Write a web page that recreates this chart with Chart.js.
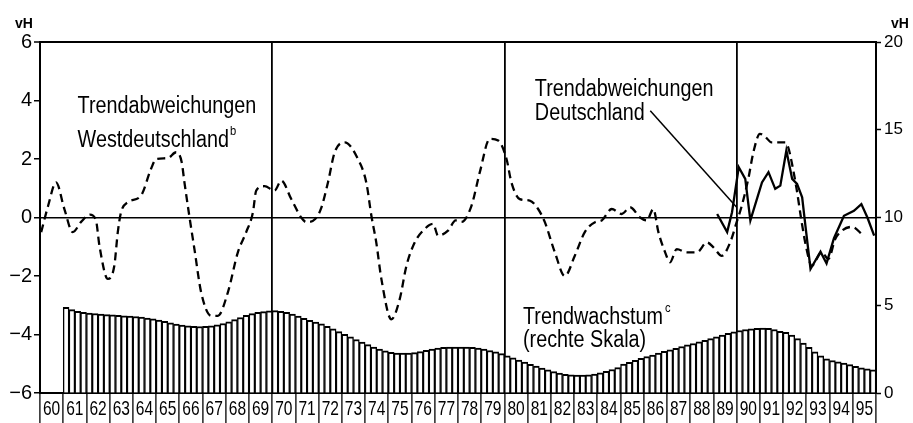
<!DOCTYPE html>
<html><head><meta charset="utf-8">
<script src="https://cdn.jsdelivr.net/npm/chart.js@4.4.1/dist/chart.umd.min.js"></script>
<style>html,body{margin:0;padding:0;background:#fff;}</style>
</head><body>
<canvas id="c" width="913" height="423"></canvas>
<script>
// ---- Data ----
// Trend deviations West Germany (vH, left scale): time (year fraction) and value
const westT = [1960.05,1960.35,1960.69,1961.05,1961.41,1961.77,1962.15,1962.41,1962.56,1962.92,1963.2,1963.35,1963.49,1963.78,1964.35,1964.78,1965.0,1965.5,1965.86,1966.1,1966.22,1966.44,1966.65,1966.94,1967.37,1967.66,1968.09,1968.52,1968.88,1969.17,1969.31,1969.67,1970.1,1970.39,1970.82,1971.25,1971.47,1971.85,1972.1,1972.4,1972.69,1973.12,1973.69,1974.05,1974.27,1974.48,1974.7,1975.13,1975.49,1975.78,1976.14,1976.57,1976.93,1977.14,1977.57,1977.9,1978.15,1978.58,1978.94,1979.37,1979.73,1980.09,1980.3,1980.66,1981.09,1981.45,1981.74,1982.17,1982.6,1983.03,1983.46,1983.9,1984.19,1984.62,1985.05,1985.41,1985.84,1986.13,1986.41,1986.63,1986.92,1987.13,1987.42,1987.85,1988.29,1988.72,1989.0,1989.36,1989.72,1990.0,1990.22,1990.5,1990.72,1991.0,1991.22,1991.5,1992.09,1992.22,1992.37,1992.58,1992.8,1993.01,1993.23,1993.66,1993.95,1994.24,1994.53,1994.96,1995.46];
const westV = [-0.5,0.4,1.2,0.29,-0.5,-0.15,0.1,-0.1,-0.97,-2.1,-1.65,-0.5,0.18,0.52,0.75,1.66,2.0,2.03,2.23,1.9,1.2,0.0,-1.08,-2.56,-3.36,-3.36,-2.56,-1.19,-0.5,0.18,0.92,1.07,0.92,1.26,0.63,0.0,-0.16,-0.05,0.3,1.2,2.23,2.57,2.0,1.2,0.06,-0.85,-2.1,-3.48,-2.79,-1.65,-0.85,-0.39,-0.22,-0.62,-0.45,-0.1,-0.15,0.4,1.55,2.69,2.63,2.0,1.2,0.63,0.58,0.29,-0.16,-1.19,-2.0,-1.31,-0.5,-0.16,-0.1,0.29,0.12,0.35,0.0,-0.1,0.29,-0.5,-1.19,-1.53,-1.08,-1.19,-1.19,-0.85,-1.02,-1.31,-0.85,-0.16,0.4,1.32,2.23,2.86,2.77,2.57,2.57,2.4,1.89,0.98,-0.16,-1.08,-1.65,-1.19,-1.42,-0.74,-0.45,-0.32,-0.62];

// Trend deviations Germany (vH, left scale)
const germT = [1989.16,1989.59,1989.8,1990.09,1990.37,1990.59,1991.09,1991.37,1991.66,1991.88,1992.14,1992.39,1992.6,1992.82,1992.96,1993.18,1993.61,1993.87,1994.19,1994.62,1995.05,1995.37,1995.63,1995.92];
const germV = [0.12,-0.5,0.18,1.72,1.32,-0.1,1.2,1.55,0.98,1.09,2.29,1.32,1.15,0.69,-0.28,-1.76,-1.17,-1.57,-0.71,0.06,0.23,0.46,0.0,-0.62];

// Trend growth (vH, right scale), quarterly 1961 Q1 .. 1995 Q4
const trendStartYear = 1961;
const trendGrowth = [
  4.88,4.75,4.66,4.60, 4.56,4.53,4.50,4.47, 4.45,4.42,4.40,4.38, 4.36,4.32,4.27,4.22,
  4.16,4.08,4.00,3.93, 3.87,3.83,3.80,3.79, 3.80,3.83,3.88,3.96, 4.06,4.18,4.30,4.42,
  4.52,4.59,4.64,4.68, 4.69,4.66,4.60,4.50, 4.38,4.26,4.14,4.04, 3.94,3.80,3.66,3.50,
  3.35,3.20,3.05,2.90, 2.76,2.62,2.50,2.40, 2.32,2.28,2.27,2.27, 2.30,2.36,2.43,2.50,
  2.56,2.60,2.62,2.62, 2.62,2.62,2.60,2.56, 2.50,2.42,2.34,2.24, 2.12,2.00,1.88,1.76,
  1.64,1.53,1.42,1.32, 1.22,1.13,1.06,1.03, 1.02,1.02,1.04,1.08, 1.15,1.24,1.34,1.45,
  1.65,1.75,1.86,1.98, 2.07,2.16,2.27,2.37, 2.46,2.55,2.65,2.74, 2.82,2.91,3.00,3.10,
  3.20,3.30,3.40,3.48, 3.56,3.62,3.66,3.69, 3.70,3.68,3.62,3.52, 3.45,3.30,3.10,2.85,
  2.60,2.35,2.12,1.95, 1.85,1.77,1.70,1.62, 1.52,1.44,1.38,1.32
];

// Axis labels
const yearLabels = ['60','61','62','63','64','65','66','67','68','69','70','71','72','73','74','75','76','77','78','79','80','81','82','83','84','85','86','87','88','89','90','91','92','93','94','95'];
const firstYear = 1960;
const leftTicks = [-6,-4,-2,0,2,4,6];
const rightTicks = [0,5,10,15,20];
const decadeLines = [1970,1980,1990];

// ---- Build datasets ----
const westData = westT.map((t,i)=>({x:t,y:westV[i]}));
const germData = germT.map((t,i)=>({x:t,y:germV[i]}));
const trendData = trendGrowth.map((v,i)=>({x: trendStartYear + (i+0.5)/4, y: v}));

const SANS = '"Liberation Sans", Arial, sans-serif';
const CLEAR = 'rgba(0,0,0,0)';
const COND = 0.86; // horizontal condensing of the plotter-style lettering

function condText(c, text, x, y, sx) {
  c.save(); c.translate(x, y); c.scale(sx, 1); c.fillText(text, 0, 0); c.restore();
  return c.measureText(text).width * sx;
}

const annotations = {
  id: 'annotations',
  afterDraw(chart) {
    const c = chart.ctx, x = chart.scales.x, y = chart.scales.y;
    const X = v => x.getPixelForValue(v), Y = v => y.getPixelForValue(v);
    c.save();
    c.fillStyle = '#000';
    // year labels in the boxes under the axis
    c.font = '21px ' + SANS;
    c.textAlign = 'center';
    c.textBaseline = 'middle';
    yearLabels.forEach((lab, i) => condText(c, lab, X(firstYear + i + 0.5), x.top + 16, 0.74));
    c.textAlign = 'left';
    c.textBaseline = 'alphabetic';
    c.font = '23px ' + SANS;
    // West Germany label
    condText(c, 'Trendabweichungen', X(1961.62), Y(3.56), COND);
    let w = condText(c, 'Westdeutschland', X(1961.62), Y(2.41), COND);
    c.font = '13px ' + SANS;
    condText(c, 'b', X(1961.62) + w + 1, Y(2.41) - 12, COND);
    // Germany label
    c.font = '23px ' + SANS;
    condText(c, 'Trendabweichungen', X(1981.31), Y(4.17), COND);
    condText(c, 'Deutschland', X(1981.31), Y(3.35), COND);
    // pointer line
    c.strokeStyle = '#000'; c.lineWidth = 1.5;
    c.beginPath(); c.moveTo(X(1986.28), Y(3.65)); c.lineTo(X(1989.99), Y(0.36)); c.stroke();
    // Trend growth label
    w = condText(c, 'Trendwachstum', X(1980.8), Y(-3.65), COND);
    condText(c, '(rechte Skala)', X(1980.8), Y(-4.43), COND);
    c.font = '13px ' + SANS;
    condText(c, 'c', X(1980.8) + w + 2, Y(-3.65) - 12, COND);
    // unit labels
    c.font = 'bold 14px ' + SANS;
    c.textAlign = 'center';
    c.fillText('vH', 24, 28);
    c.fillText('vH', 900, 28);
    c.restore();
  }
};

new Chart(document.getElementById('c'), {
  type: 'line',
  data: {
    datasets: [
      { type:'line', label:'Trendabweichungen Westdeutschland', data: westData, xAxisID:'x', yAxisID:'y',
        borderColor:'#000', borderWidth:2.3, borderDash:[8,5], pointRadius:0, fill:false,
        cubicInterpolationMode:'monotone', order:1 },
      { type:'line', label:'Trendabweichungen Deutschland', data: germData, xAxisID:'x', yAxisID:'y',
        borderColor:'#000', borderWidth:2.3, pointRadius:0, fill:false, tension:0, order:2 },
      { type:'bar', label:'Trendwachstum', data: trendData, xAxisID:'x', yAxisID:'yR',
        backgroundColor:'#fff', borderColor:'#000', borderWidth:{top:2,left:1.4,right:1.4,bottom:0},
        borderSkipped:false, barPercentage:1, categoryPercentage:1, order:3 }
    ]
  },
  options: {
    responsive:false, animation:false, devicePixelRatio:1,
    layout:{ padding:{ top:42, left:0, right:0, bottom:0 } },
    plugins:{ legend:{display:false}, tooltip:{enabled:false} },
    scales:{
      x:{ type:'linear', position:'bottom', min:firstYear, max:firstYear+yearLabels.length, offset:false,
        afterBuildTicks: s => { const t=[]; for(let v=firstYear; v<=firstYear+yearLabels.length+1e-9; v+=1) t.push({value:v}); s.ticks=t; },
        afterFit: s => { s.height = 30; },
        ticks:{ autoSkip:false, maxRotation:0, minRotation:0, color:'#000', callback: () => '' },
        grid:{ offset:false, drawOnChartArea:true, tickLength:30,
          color: ctx => (ctx.tick && decadeLines.includes(ctx.tick.value)) ? '#000' : CLEAR,
          lineWidth: 1.8,
          tickColor:'#000', tickWidth: 1.3 },
        border:{ display:true, color:'#000', width:2 }
      },
      y:{ type:'linear', position:'left', min:leftTicks[0], max:leftTicks[leftTicks.length-1],
        afterBuildTicks: s => { s.ticks = leftTicks.map(v=>({value:v})); },
        afterFit: s => { s.width = 40; },
        ticks:{ color:'#000', padding:2, font:{ family:SANS, size:20 },
          callback: v => v < 0 ? '\u2212' + Math.abs(v) : String(v) },
        grid:{ drawOnChartArea:true, tickLength:6,
          color: ctx => (ctx.tick && (ctx.tick.value === 0 || ctx.tick.value === 6)) ? '#000' : CLEAR,
          lineWidth: ctx => (ctx.tick && ctx.tick.value === 6) ? 2 : 1.5,
          tickColor:'#000', tickWidth:1.5 },
        border:{ display:true, color:'#000', width:2 }
      },
      yR:{ type:'linear', position:'right', min:rightTicks[0], max:rightTicks[rightTicks.length-1],
        afterBuildTicks: s => { s.ticks = rightTicks.map(v=>({value:v})); },
        afterFit: s => { s.width = 37; },
        ticks:{ color:'#000', padding:3, font:{ family:SANS, size:17 } },
        grid:{ drawOnChartArea:false, tickLength:5, tickColor:'#000', tickWidth:1.5 },
        border:{ display:true, color:'#000', width:2 }
      }
    }
  },
  plugins:[annotations]
});
</script>
</body></html>
